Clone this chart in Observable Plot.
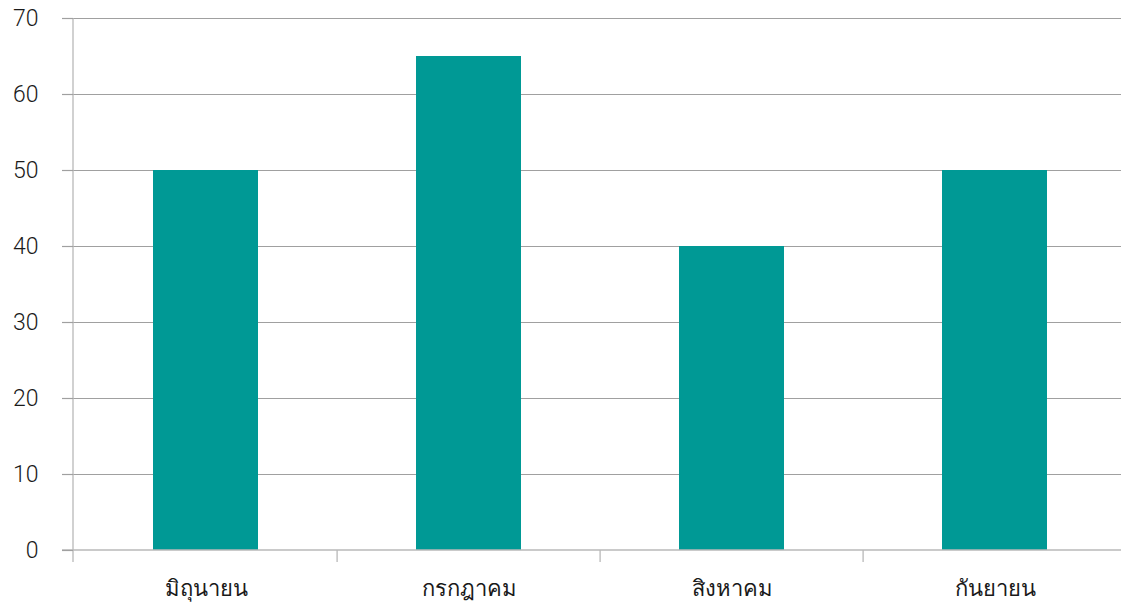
<!DOCTYPE html>
<html>
<head>
<meta charset="utf-8">
<script src="https://cdn.jsdelivr.net/npm/d3@7"></script>
<script src="https://cdn.jsdelivr.net/npm/@observablehq/plot@0.6"></script>
<style>
  html, body { margin: 0; padding: 0; background: #fff; overflow: hidden; }
  #chart svg { display: block; }
</style>
</head>
<body>
<div id="chart"></div>
<script>
const months = ["มิถุนายน", "กรกฎาคม", "สิงหาคม", "กันยายน"];
const values = [50, 65, 40, 50];
const yTicks = [0, 10, 20, 30, 40, 50, 60, 70];

const data = months.map((m, i) => ({ month: m, value: values[i] }));

// left axis line, baseline and category separator ticks, computed from the scales
function frameTicks(index, scales, values, dims) {
  const { x, y } = scales;
  const starts = months.map(m => x(m));
  const step = starts[1] - starts[0];
  const bw = step * 0.4;
  const centers = starts.map(s => s + bw / 2);
  const y0 = y(0);
  const yTop = y(70);
  const left = dims.marginLeft;
  const g = d3.create("svg:g");
  g.append("line")
    .attr("x1", left).attr("x2", left)
    .attr("y1", yTop).attr("y2", y0 + 12)
    .attr("stroke", "#b8b8b8").attr("stroke-width", 1.3);
  centers.forEach((c, i) => {
    if (i === 0) return;
    const bx = c - step / 2;
    g.append("line")
      .attr("x1", bx).attr("x2", bx)
      .attr("y1", y0).attr("y2", y0 + 12)
      .attr("stroke", "#b8b8b8").attr("stroke-width", 1.3);
  });
  g.append("line")
    .attr("x1", left - 11).attr("x2", dims.width)
    .attr("y1", y0).attr("y2", y0)
    .attr("stroke", "#b8b8b8").attr("stroke-width", 1.6);
  return g.node();
}

const chart = Plot.plot({
  width: 1121,
  height: 607,
  marginLeft: 73,
  marginRight: -6,
  marginTop: 18,
  marginBottom: 57,
  style: { fontFamily: "Roboto, Liberation Sans, Arial, sans-serif", background: "#fff", overflow: "hidden" },
  x: { domain: months, paddingInner: 0.6, paddingOuter: 0.3, label: null },
  y: { domain: [0, 70], label: null },
  marks: [
    Plot.gridY(yTicks.filter(t => t > 0), { stroke: "#a0a0a0", strokeOpacity: 1, strokeWidth: 1.2 }),
    Plot.barY(data, { x: "month", y: "value", fill: "#009995" }),
    frameTicks,
    Plot.axisY({ ticks: yTicks, tickSize: 11, stroke: "#a0a0a0", strokeWidth: 1.2, tickPadding: 24, fontSize: 23, fontWeight: 300, fill: "#1a1a1a", tickFormat: d => String(d) }),
    Plot.axisX({ tickSize: 0, tickPadding: 30, fontSize: 22, fill: "#1a1a1a" })
  ]
});
document.getElementById("chart").appendChild(chart);
</script>
</body>
</html>
